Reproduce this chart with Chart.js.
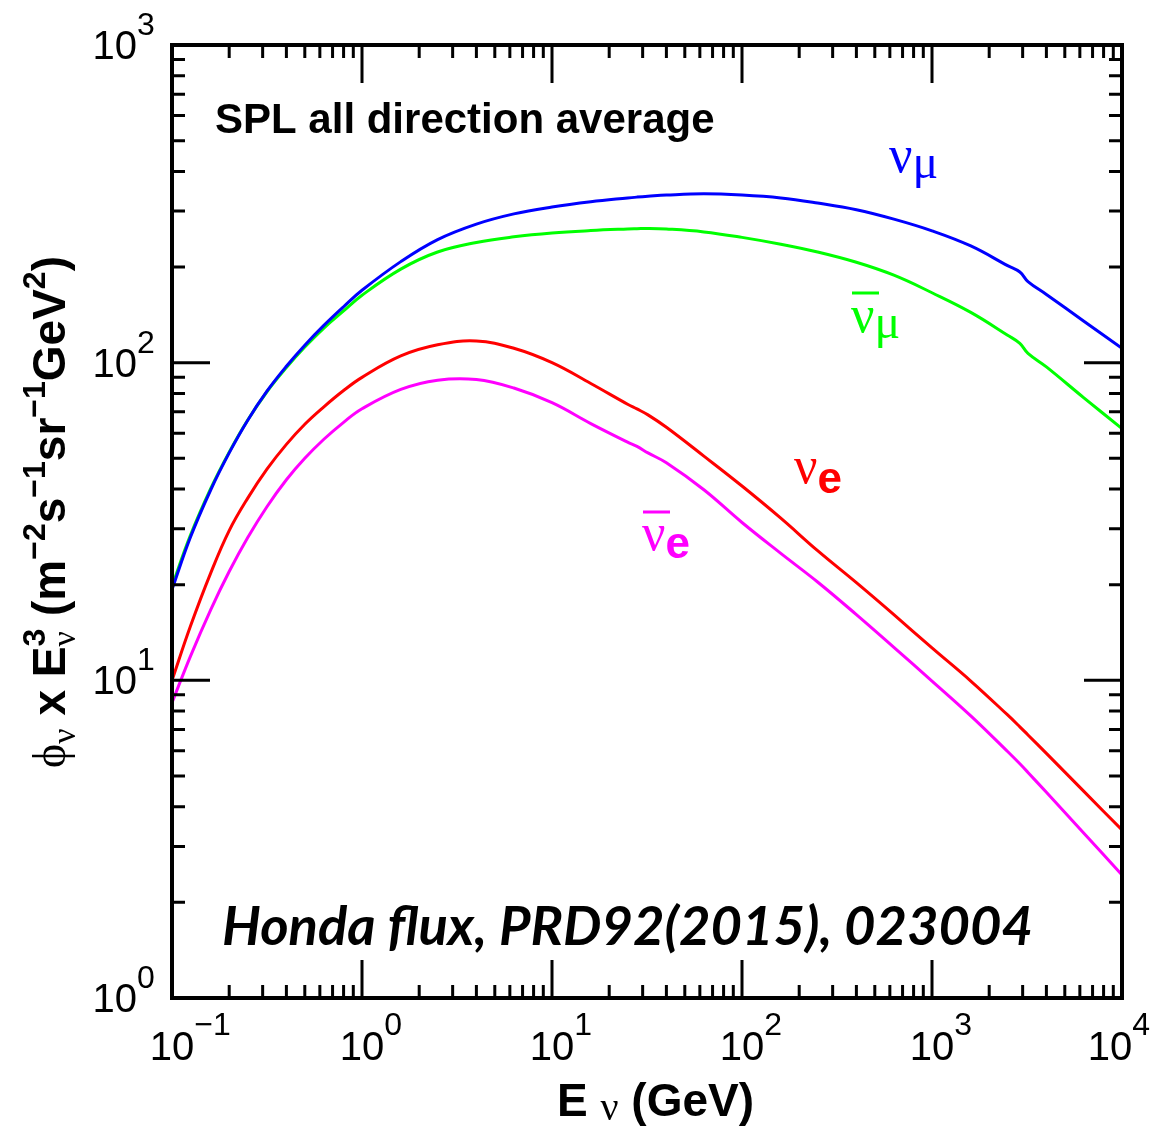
<!DOCTYPE html>
<html lang="en">
<head>
<meta charset="UTF-8">
<title>Honda flux - SPL all direction average</title>
<script src="https://cdn.jsdelivr.net/npm/chart.js"></script>
<style>
  body { margin: 0; background: #fff; }
  canvas { display: block; }
</style>
</head>
<body>
<canvas id="fluxChart" width="1172" height="1126"></canvas>
<script>
// neutrino energy (GeV)
const energies = [0.1, 0.125, 0.16, 0.2, 0.25, 0.316, 0.4, 0.5, 0.63, 0.8, 1, 1.6, 2.5, 4, 6.3, 10, 16, 25, 28, 32,
                  40, 63, 100, 160, 250, 400, 630, 1000, 1600, 2500, 2900, 3200, 4000, 6300, 10000];

// phi x E^3  (m^-2 s^-1 sr^-1 GeV^2)
const numu     = [19.3, 28.2, 39.8, 52, 65.8, 81.3, 97.4, 113.5, 131, 150, 169, 208, 244, 273, 294, 309, 321, 330, 332, 334,
                  337, 340, 337, 330, 318, 303, 283, 260, 233, 202, 193, 180, 164, 135, 111];
const numubar  = [19.8, 28.6, 40.2, 52.3, 65.9, 81, 96.5, 112, 128.5, 145.5, 163, 197, 223, 239, 249, 256, 260.5, 263.5, 264, 264.5,
                  263.5, 258, 248, 236, 223, 207, 188.5, 166, 144, 122, 115, 107, 97, 77.5, 62];
const nue      = [10, 14.8, 21.8, 29.6, 37.4, 46.2, 55.3, 64, 72.6, 81.7, 89.9, 105, 113.8, 117, 111, 100, 86, 74, 71.5, 68.5,
                  62.6, 50.8, 40.9, 32.4, 25.6, 20.3, 16.1, 12.65, 9.95, 7.78, 7.14, 6.73, 5.89, 4.47, 3.38];
const nuebar   = [8.5, 11.9, 16.7, 22, 28.1, 35.2, 42.8, 50, 57.4, 64.9, 71.6, 82.4, 88.1, 88.5, 83.2, 74.8, 64.3, 56.2, 54.5, 52,
                  48.4, 39.8, 31.4, 25.1, 20.4, 16.1, 12.7, 9.95, 7.73, 5.97, 5.46, 5.13, 4.44, 3.3, 2.44];

const xExponents = [-1, 0, 1, 2, 3, 4];
const yExponents = [0, 1, 2, 3];

const SANS = '"Liberation Sans", Arial, Helvetica, sans-serif';
const SERIF = '"Liberation Serif", "DejaVu Serif", "Times New Roman", serif';

function toPoints(values) {
    return energies.map((e, i) => ({ x: e, y: values[i] }));
}

function supText(exp) {
    return exp < 0 ? '\u2212' + (-exp) : String(exp);
}

// draw a list of text pieces one after another
function drawRuns(ctx, x, y, runs) {
    let cx = x, held = 0;
    for (const r of runs) {
        ctx.font = r.f;
        ctx.fillStyle = r.c || '#000';
        ctx.fillText(r.t, cx, y + (r.dy || 0));
        const w = ctx.measureText(r.t).width;
        if (r.stack) { held = w; continue; }
        cx += Math.max(w, held);
        held = 0;
    }
    return cx - x;
}

function runsWidth(ctx, runs) {
    let total = 0, held = 0;
    for (const r of runs) {
        ctx.font = r.f;
        const w = ctx.measureText(r.t).width;
        if (r.stack) { held = w; continue; }
        total += Math.max(w, held);
        held = 0;
    }
    return total;
}

const decorations = {
    id: 'decorations',
    afterDraw(chart) {
        const ctx = chart.ctx;
        const a = chart.chartArea;
        const xs = chart.scales.x, ys = chart.scales.y;
        ctx.save();
        ctx.strokeStyle = '#000';
        ctx.fillStyle = '#000';

        // ticks on all four sides, pointing inward
        ctx.lineWidth = 3;
        ctx.beginPath();
        for (let e = -1; e < 4; e++) {
            for (let m = 1; m <= 9; m++) {
                const px = xs.getPixelForValue(m * Math.pow(10, e));
                const len = m === 1 ? 38 : 13;
                ctx.moveTo(px, a.bottom); ctx.lineTo(px, a.bottom - len);
                ctx.moveTo(px, a.top); ctx.lineTo(px, a.top + len);
            }
        }
        for (let e = 0; e < 3; e++) {
            for (let m = 1; m <= 9; m++) {
                const py = ys.getPixelForValue(m * Math.pow(10, e));
                const len = m === 1 ? 38 : 13;
                ctx.moveTo(a.left, py); ctx.lineTo(a.left + len, py);
                ctx.moveTo(a.right, py); ctx.lineTo(a.right - len, py);
            }
        }
        ctx.stroke();

        // frame
        ctx.lineWidth = 4;
        ctx.strokeRect(a.left, a.top, a.right - a.left, a.bottom - a.top);

        // tick labels
        const baseFont = '40px ' + SANS, expFont = '32px ' + SANS;
        ctx.textBaseline = 'alphabetic';
        ctx.textAlign = 'left';
        xExponents.forEach(ex => {
            const px = xs.getPixelForValue(Math.pow(10, ex));
            ctx.font = baseFont;
            const wb = ctx.measureText('10').width;
            ctx.font = expFont;
            const we = ctx.measureText(supText(ex)).width;
            let left = px - wb / 2;
            if (left + wb + we > 1150) left = 1150 - wb - we;
            ctx.font = baseFont;
            ctx.fillText('10', left, 1060);
            ctx.font = expFont;
            ctx.fillText(supText(ex), left + wb, 1035);
        });
        yExponents.forEach(ex => {
            const py = ys.getPixelForValue(Math.pow(10, ex));
            ctx.font = baseFont;
            const wb = ctx.measureText('10').width;
            ctx.fillText('10', 137 - wb, py + 14);
            ctx.font = expFont;
            ctx.fillText(supText(ex), 137, py - 10);
        });

        // x axis title
        drawRuns(ctx, 557, 1116, [
            { t: 'E', f: 'bold 46px ' + SANS },
            { t: ' ', f: 'bold 46px ' + SANS },
            { t: '\u03BD', f: '40px ' + SERIF, dy: 4 },
            { t: ' (GeV)', f: 'bold 46px ' + SANS }
        ]);

        // y axis title (rotated)
        const B = 'bold 46px ' + SANS, S = 'bold 32px ' + SANS;
        const yRuns = [
            { t: '\u03D5', f: '46px ' + SERIF },
            { t: '\u03BD', f: '34px ' + SERIF, dy: 10 },
            { t: ' x E', f: B },
            { t: '3', f: S, dy: -20, stack: true },
            { t: '\u03BD', f: '34px ' + SERIF, dy: 10 },
            { t: ' (m', f: B },
            { t: '\u22122', f: S, dy: -20 },
            { t: 's', f: B },
            { t: '\u22121', f: S, dy: -20 },
            { t: 'sr', f: B },
            { t: '\u22121', f: S, dy: -20 },
            { t: 'GeV', f: B },
            { t: '2', f: S, dy: -20 },
            { t: ')', f: B }
        ];
        ctx.save();
        ctx.translate(65, 512);
        ctx.rotate(-Math.PI / 2);
        drawRuns(ctx, -runsWidth(ctx, yRuns) / 2, 0, yRuns);
        ctx.restore();

        // annotations
        ctx.font = 'bold 42px ' + SANS;
        ctx.fillText('SPL all direction average', 215, 133);

        const honda = 'Honda flux, PRD92(2015), 023004';
        ctx.font = 'italic bold 48px Lato, "Open Sans", ' + SANS;
        const hw = ctx.measureText(honda).width;
        const hs = 48 * 811 / hw;
        ctx.font = 'italic bold ' + hs.toFixed(1) + 'px Lato, "Open Sans", ' + SANS;
        ctx.fillText(honda, 222, 945);

        // curve labels
        const nuFont = '52px ' + SERIF, muFont = '48px ' + SERIF, eFont = 'bold 44px ' + SANS;
        const bar = (x0, x1, y, col) => {
            ctx.fillStyle = col;
            ctx.fillRect(x0, y - 1.5, x1 - x0, 3);
        };
        drawRuns(ctx, 889, 172, [
            { t: '\u03BD', f: nuFont, c: '#0000ff' },
            { t: '\u03BC', f: muFont, c: '#0000ff', dy: 6 }
        ]);
        bar(852, 879, 293, '#00ff00');
        drawRuns(ctx, 851, 332, [
            { t: '\u03BD', f: nuFont, c: '#00ff00' },
            { t: '\u03BC', f: muFont, c: '#00ff00', dy: 6 }
        ]);
        drawRuns(ctx, 794, 483, [
            { t: '\u03BD', f: nuFont, c: '#ff0000' },
            { t: 'e', f: eFont, c: '#ff0000', dy: 10 }
        ]);
        bar(643, 670, 512, '#ff00ff');
        drawRuns(ctx, 642, 550, [
            { t: '\u03BD', f: nuFont, c: '#ff00ff' },
            { t: 'e', f: eFont, c: '#ff00ff', dy: 8 }
        ]);
        ctx.restore();
    }
};

function series(values, color) {
    return {
        data: toPoints(values),
        borderColor: color,
        backgroundColor: color,
        borderWidth: 3,
        pointRadius: 0,
        fill: false,
        tension: 0.4
    };
}

const ctx = document.getElementById('fluxChart').getContext('2d');
new Chart(ctx, {
    type: 'line',
    data: {
        datasets: [
            series(numu, '#0000ff'),
            series(numubar, '#00ff00'),
            series(nue, '#ff0000'),
            series(nuebar, '#ff00ff')
        ]
    },
    options: {
        responsive: false,
        animation: false,
        layout: { padding: { top: 45, right: 50, left: 0, bottom: 0 } },
        plugins: { legend: { display: false }, tooltip: { enabled: false } },
        scales: {
            x: {
                type: 'logarithmic', min: 0.1, max: 10000,
                ticks: { display: false }, grid: { display: false }, border: { display: false },
                afterFit(s) { s.height = 128; }
            },
            y: {
                type: 'logarithmic', min: 1, max: 1000,
                ticks: { display: false }, grid: { display: false }, border: { display: false },
                afterFit(s) { s.width = 172; }
            }
        }
    },
    plugins: [decorations]
});
</script>
</body>
</html>
